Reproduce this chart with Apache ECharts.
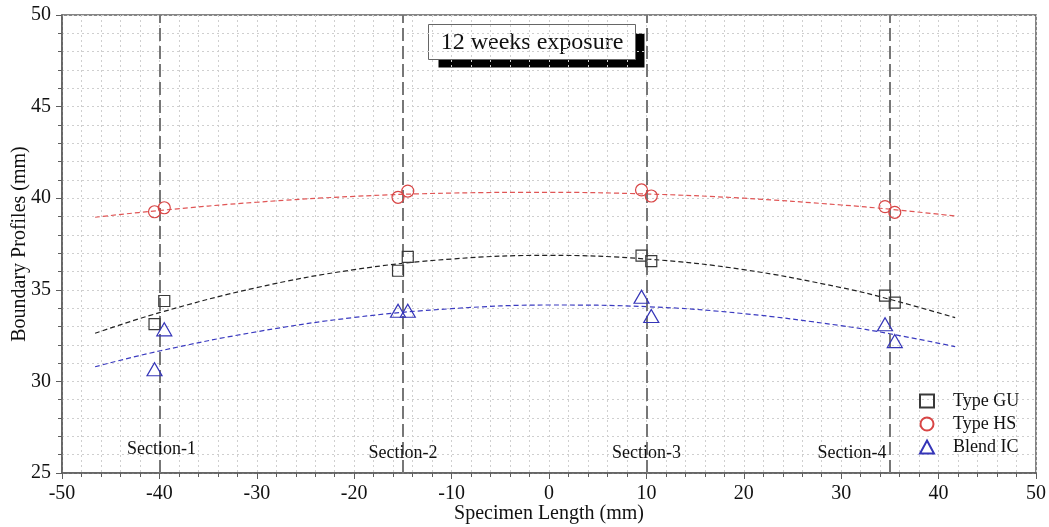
<!DOCTYPE html>
<html>
<head>
<meta charset="utf-8">
<script src="https://cdn.jsdelivr.net/npm/echarts@6/dist/echarts.min.js"></script>
<style>
  html, body { margin: 0; padding: 0; background: #fff; }
  #chart { width: 1049px; height: 527px; }
</style>
</head>
<body>
<div id="chart"></div>
<script>
// Measurement positions along the specimen (mm)
const pointX = [-40.5, -39.5, -15.5, -14.5, 9.5, 10.5, 34.5, 35.5];
// Boundary profile readings (mm)
const typeGU = [33.13, 34.39, 36.04, 36.80, 36.86, 36.57, 34.68, 34.30];
const typeHS = [39.26, 39.48, 40.05, 40.39, 40.45, 40.12, 39.54, 39.23];
const blendIC = [30.66, 32.84, 33.86, 33.86, 34.62, 33.57, 33.12, 32.20];

// Trend curves sampled along the specimen length
const fitX = [-46.6, -40, -30, -20, -10, 0, 10, 20, 30, 35, 41.7];
const fitGU = [32.63, 33.75, 35.12, 36.10, 36.68, 36.88, 36.68, 36.10, 35.12, 34.48, 33.48];
const fitHS = [38.96, 39.33, 39.78, 40.10, 40.28, 40.32, 40.23, 40.00, 39.63, 39.40, 39.03];
const fitIC = [30.80, 31.66, 32.71, 33.49, 33.97, 34.17, 34.08, 33.70, 33.04, 32.60, 31.90];

// Section cut positions
const sectionX = [-40, -15, 10, 35];
const sectionNames = ['Section-1', 'Section-2', 'Section-3', 'Section-4'];

const titleText = '12 weeks exposure';
const xName = 'Specimen Length (mm)';
const yName = 'Boundary Profiles (mm)';

const SERIF = '"Liberation Serif", "DejaVu Serif", serif';
const C_GU = '#3a3a3a', C_HS = '#d84545', C_IC = '#3535b8';

const zip = (xs, ys) => xs.map((x, i) => [x, ys[i]]);

const chart = echarts.init(document.getElementById('chart'), null, { renderer: 'canvas' });

const gridLine = { show: true, lineStyle: { color: '#cfcfcf', type: [2, 3], width: 1 } };
const axisColor = '#5e5e5e';

const scatter = (name, ys, symbol, size, color) => ({
  name, type: 'scatter', data: zip(pointX, ys), symbol, symbolSize: size, z: 5,
  itemStyle: { color: 'rgba(0,0,0,0)', borderColor: color, borderWidth: 1.2, opacity: 1 }
});
const curve = (ys, color) => ({
  type: 'line', data: zip(fitX, ys), smooth: 0.4, showSymbol: false, silent: true, z: 3,
  lineStyle: { color, width: 1.2, type: [5, 3] }
});

chart.setOption({
  animation: false,
  backgroundColor: '#fff',
  grid: {
    left: 62, right: 13, top: 15, bottom: 54, outerBoundsMode: 'none',
    show: true, borderColor: axisColor, borderWidth: 1.5
  },
  xAxis: {
    type: 'value', min: -50, max: 50, interval: 10,
    name: xName, nameLocation: 'middle', nameGap: 31, nameMoveOverlap: false,
    nameTextStyle: { fontFamily: SERIF, fontSize: 20, color: '#111' },
    axisLine: { onZero: false, lineStyle: { color: axisColor, width: 1.5 } },
    axisTick: { show: true, inside: false, length: 6, lineStyle: { color: axisColor } },
    minorTick: { show: true, splitNumber: 5, length: 4, lineStyle: { color: axisColor } },
    axisLabel: { fontFamily: SERIF, fontSize: 20, color: '#111', margin: 11 },
    splitLine: gridLine,
    minorSplitLine: gridLine
  },
  yAxis: {
    type: 'value', min: 25, max: 50, interval: 5,
    name: yName, nameLocation: 'middle', nameGap: 32, nameMoveOverlap: false,
    nameTextStyle: { fontFamily: SERIF, fontSize: 20, color: '#111' },
    axisLine: { show: true, onZero: false, lineStyle: { color: axisColor, width: 1.5 } },
    axisTick: { show: true, inside: false, length: 6, lineStyle: { color: axisColor } },
    minorTick: { show: true, splitNumber: 5, length: 4, lineStyle: { color: axisColor } },
    axisLabel: { fontFamily: SERIF, fontSize: 20, color: '#111', margin: 11 },
    splitLine: gridLine,
    minorSplitLine: gridLine
  },
  legend: {
    orient: 'vertical', left: 914, top: 387, itemGap: 5, itemWidth: 14, itemHeight: 13,
    textStyle: { fontFamily: SERIF, fontSize: 18, color: '#111', padding: [0, 0, 0, 14] },
    data: ['Type GU', 'Type HS', 'Blend IC']
  },
  series: [
    curve(fitGU, '#222'),
    curve(fitHS, '#e05555'),
    curve(fitIC, '#3a3ac0'),
    scatter('Type GU', typeGU, 'rect', 11, C_GU),
    scatter('Type HS', typeHS, 'circle', 12, C_HS),
    scatter('Blend IC', blendIC, 'triangle', [15, 13], C_IC),
    {
      // Section cut lines and their captions
      type: 'scatter', silent: true, symbolSize: 0, z: 6,
      itemStyle: { opacity: 1 },
      data: sectionX.map((x, i) => ({
        value: [x, 26.1], name: sectionNames[i],
        label: { offset: i === 3 ? [-38, 0] : (i === 0 ? [2, -4] : [0, 0]) }
      })),
      label: {
        show: true, position: 'inside', formatter: p => p.name,
        fontFamily: SERIF, fontSize: 18, color: '#111'
      },
      markLine: {
        silent: true, symbol: 'none', label: { show: false },
        lineStyle: { color: '#777', width: 2, type: [13, 5] },
        data: sectionX.map(x => ({ xAxis: x }))
      }
    }
  ],
  graphic: [
    {
      type: 'group', left: 428, top: 24, z: 10,
      children: [
        { type: 'rect', shape: { x: 10, y: 9, width: 206, height: 34 }, style: { fill: '#000' } },
        { type: 'rect', shape: { x: 0, y: 0, width: 207, height: 35 }, style: { fill: '#fff', stroke: '#666', lineWidth: 1 } },
        { type: 'text', x: 103.5, y: 18, style: { text: titleText, font: '24px ' + SERIF, fill: '#111', align: 'center', verticalAlign: 'middle' } }
      ]
    }
  ]
});
</script>
</body>
</html>
